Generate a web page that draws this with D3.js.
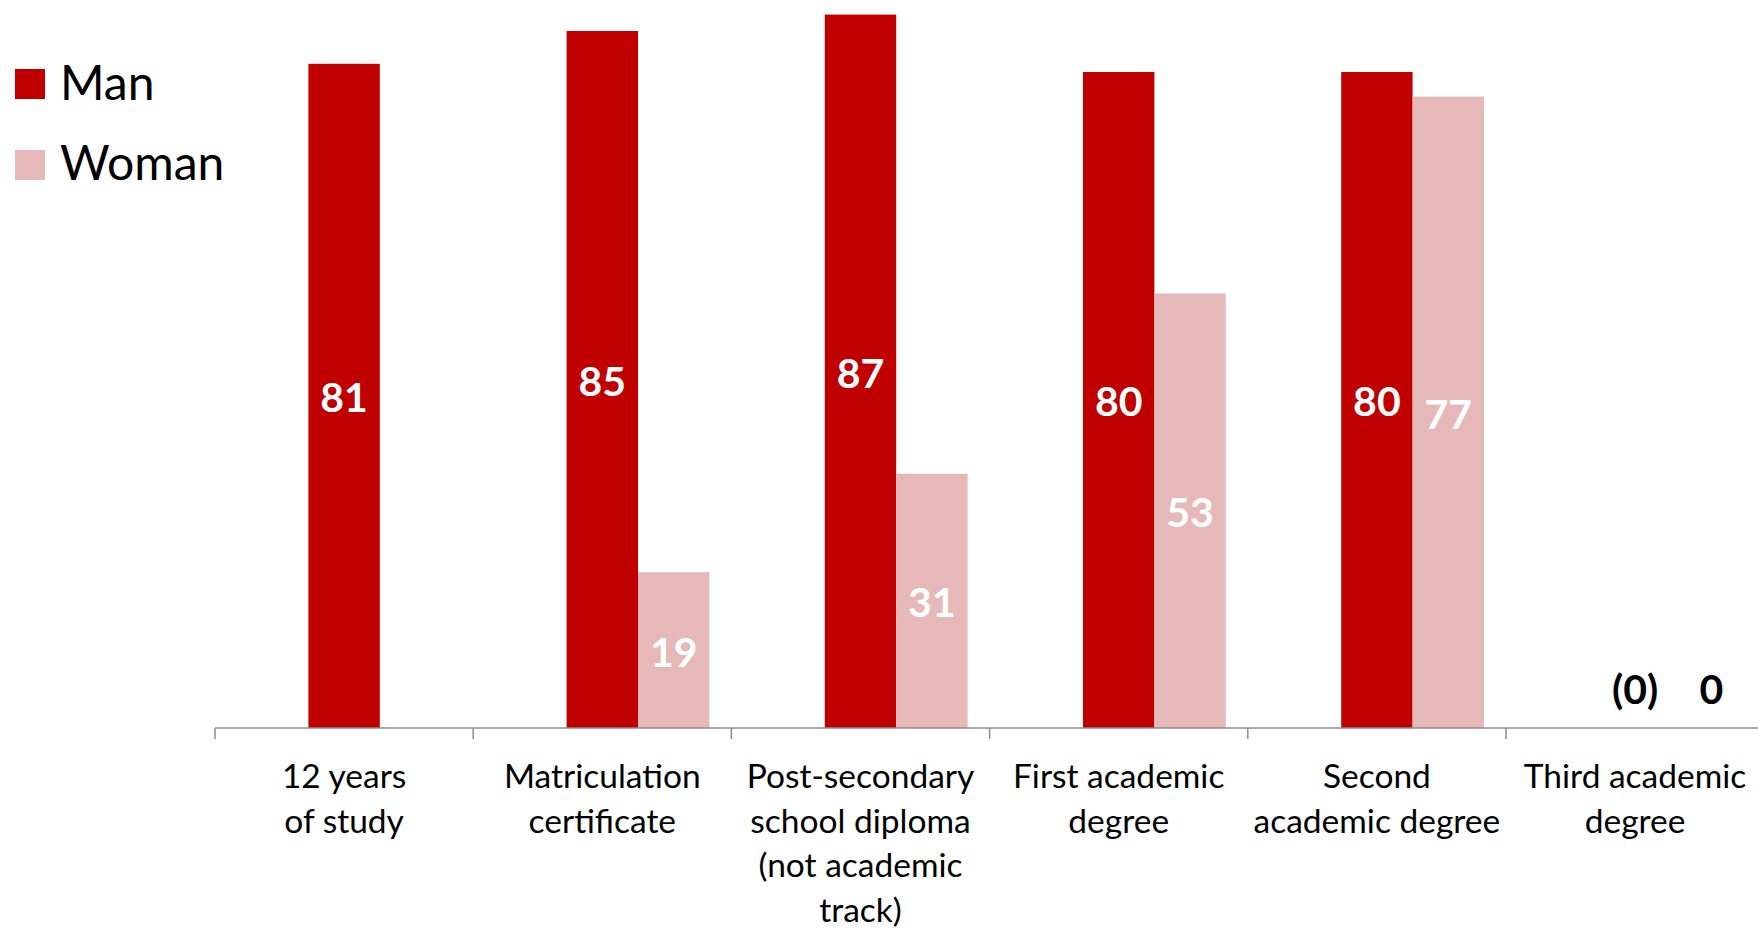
<!DOCTYPE html>
<html>
<head>
<meta charset="utf-8">
<script src="https://cdn.jsdelivr.net/npm/d3@7"></script>
<style>
  html, body { margin: 0; padding: 0; background: #fff; }
  svg { display: block; }
</style>
</head>
<body>
<svg id="chart" width="1758" height="930"></svg>
<script>
// ---- data ----
const categories = [
  "12 years of study",
  "Matriculation certificate",
  "Post-secondary school diploma (not academic track)",
  "First academic degree",
  "Second academic degree",
  "Third academic degree"
];
const categoryLines = [
  ["12 years", "of study"],
  ["Matriculation", "certificate"],
  ["Post-secondary", "school diploma", "(not academic", "track)"],
  ["First academic", "degree"],
  ["Second", "academic degree"],
  ["Third academic", "degree"]
];
const seriesNames = ["Man", "Woman"];
const manValues   = [81, 85, 87, 80, 80, 0];
const womanValues = [null, 19, 31, 53, 77, 0];
const manLabels   = ["81", "85", "87", "80", "80", "(0)"];
const womanLabels = [null, "19", "31", "53", "77", "0"];
const colors = ["#C00000", "#E6B9B8"];

// ---- layout ----
const svg = d3.select("#chart");
const axisY = 728;
const x0 = 215, catW = 258.2;
const barW = 71.4;
const FONT = "Lato, 'Open Sans', sans-serif";

const x = d3.scaleBand().domain(categories).range([x0, x0 + catW * categories.length]).paddingInner(0).paddingOuter(0);
const y = d3.scaleLinear().domain([0, 100]).range([axisY, axisY - 820]);

const series = [
  { name: seriesNames[0], values: manValues, labels: manLabels, color: colors[0], offset: -barW / 2 },
  { name: seriesNames[1], values: womanValues, labels: womanLabels, color: colors[1], offset: barW / 2 }
];

series.forEach(s => {
  const g = svg.append("g");
  categories.forEach((c, i) => {
    const v = s.values[i];
    if (v == null) return;
    const cx = x(c) + x.bandwidth() / 2 + s.offset + barW / 2;
    if (v > 0) {
      g.append("rect")
        .attr("x", cx - barW / 2)
        .attr("y", y(v))
        .attr("width", barW)
        .attr("height", y(0) - y(v))
        .attr("fill", s.color);
    }
    const lab = s.labels[i];
    if (lab != null) {
      const cy = v > 0 ? (y(v) + y(0)) / 2 : axisY - 40;
      g.append("text")
        .attr("x", v > 0 ? cx : cx + (s.offset > 0 ? 5 : 0))
        .attr("y", cy)
        .attr("dy", "0.4em")
        .attr("text-anchor", "middle")
        .attr("font-family", FONT)
        .attr("font-weight", "bold")
        .attr("font-size", 41)
        .attr("fill", v > 0 ? "#fff" : "#000")
        .text(lab);
    }
  });
});

// ---- axis ----
const axisColor = "#8c8c8c";
svg.append("line")
  .attr("x1", x0).attr("x2", 1758)
  .attr("y1", axisY).attr("y2", axisY)
  .attr("stroke", axisColor).attr("stroke-width", 1.5);
categories.forEach(c => {
  svg.append("line")
    .attr("x1", x(c)).attr("x2", x(c))
    .attr("y1", axisY).attr("y2", axisY + 11)
    .attr("stroke", axisColor).attr("stroke-width", 1.5);
});

// category labels
categories.forEach((c, i) => {
  const t = svg.append("text")
    .attr("x", x(c) + x.bandwidth() / 2)
    .attr("y", 788)
    .attr("text-anchor", "middle")
    .attr("font-family", FONT)
    .attr("font-size", 33.5)
    .attr("fill", "#000");
  categoryLines[i].forEach((ln, j) => {
    t.append("tspan")
      .attr("x", x(c) + x.bandwidth() / 2)
      .attr("y", 788 + j * 44.5)
      .text(ln);
  });
});

// ---- legend ----
const legend = svg.append("g");
seriesNames.forEach((n, i) => {
  legend.append("rect")
    .attr("x", 15).attr("y", 69 + i * 81)
    .attr("width", 30).attr("height", 30)
    .attr("fill", colors[i]);
  legend.append("text")
    .attr("x", 60).attr("y", 100 + i * 80)
    .attr("font-family", FONT)
    .attr("font-size", 48)
    .attr("fill", "#000")
    .text(n);
});
</script>
</body>
</html>
